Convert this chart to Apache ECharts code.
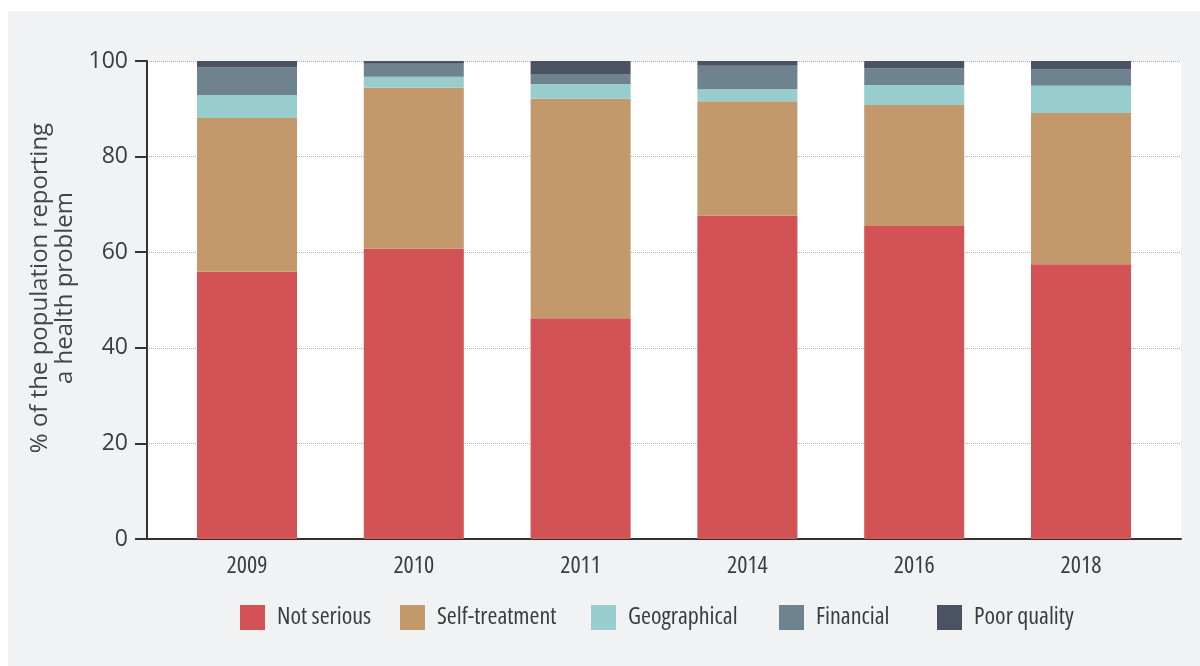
<!DOCTYPE html>
<html>
<head>
<meta charset="utf-8">
<script src="https://cdn.jsdelivr.net/npm/echarts@6/dist/echarts.min.js"></script>
<style>
  html, body { margin: 0; padding: 0; background: #ffffff; }
  #panel { position: absolute; left: 8px; top: 11px; width: 1192px; height: 655px; background: #f1f2f4; }
  #chart { position: absolute; left: 0; top: 0; width: 1200px; height: 666px; }
</style>
</head>
<body>
<div id="panel"></div>
<div id="chart"></div>
<script>
const years = ['2009', '2010', '2011', '2014', '2016', '2018'];
const notSerious    = [55.9, 60.7, 46.2, 67.6, 65.5, 57.5];
const selfTreatment = [32.2, 33.7, 45.9, 24.0, 25.3, 31.6];
const geographical  = [4.8, 2.3, 3.1, 2.5, 4.2, 5.7];
const financial     = [5.8, 2.7, 2.1, 4.9, 3.5, 3.5];
const poorQuality   = [1.3, 0.6, 2.7, 1.0, 1.5, 1.7];
const yTicks = [0, 20, 40, 60, 80, 100];

const seriesDefs = [
  { name: 'Not serious', data: notSerious, color: '#d35256' },
  { name: 'Self-treatment', data: selfTreatment, color: '#c3996b' },
  { name: 'Geographical', data: geographical, color: '#97cdcc' },
  { name: 'Financial', data: financial, color: '#6f828f' },
  { name: 'Poor quality', data: poorQuality, color: '#4b5263' }
];
const legendLefts = [240, 400, 591, 779, 937];

const family = "'Open Sans', 'Noto Sans', sans-serif";
const condensed = 'normal condensed';

const chart = echarts.init(document.getElementById('chart'), null, { renderer: 'canvas' });
chart.setOption({
  animation: false,
  grid: [
    { left: 163.6, right: 35.6, top: 61, bottom: 127 },
    { left: 147, right: 19, top: 61, bottom: 127, show: true, backgroundColor: '#ffffff', borderWidth: 0 }
  ],
  xAxis: [
    {
      type: 'category', gridIndex: 0, data: years,
      axisLine: { show: false }, axisTick: { show: false },
      axisLabel: { margin: 15, fontSize: 24, color: '#3d3d3d', fontFamily: family, fontWeight: condensed }
    },
    {
      type: 'value', gridIndex: 1, min: 0, max: 1,
      axisLine: { show: true, lineStyle: { color: '#333333', width: 2 } },
      axisTick: { show: false }, axisLabel: { show: false }, splitLine: { show: false }
    }
  ],
  yAxis: [
    { type: 'value', gridIndex: 0, min: 0, max: 100, interval: 20, show: false, splitLine: { show: false } },
    {
      type: 'value', gridIndex: 1, min: 0, max: 100, interval: 20,
      name: '% of the population reporting\na health problem',
      nameLocation: 'middle', nameGap: 63,
      nameTextStyle: { fontSize: 24, lineHeight: 25, color: '#444444', fontFamily: family, align: 'center', padding: [0, 0, 0, 24] },
      axisLine: { show: true, lineStyle: { color: '#333333', width: 2 } },
      axisTick: { show: true, length: 12, lineStyle: { color: '#333333', width: 2 } },
      axisLabel: {
        margin: 19, fontSize: 23, color: '#3d3d3d', fontFamily: family,
        formatter: v => yTicks.includes(v) ? String(v) : ''
      },
      splitLine: { show: true, lineStyle: { color: '#b0b0b0', type: 'dotted', width: 1 } }
    }
  ],
  legend: seriesDefs.map((s, i) => ({
    left: legendLefts[i], top: 605, padding: 0,
    itemWidth: 25, itemHeight: 25,
    icon: 'rect',
    textStyle: { fontSize: 24, color: '#3d3d3d', fontFamily: family, fontWeight: condensed, padding: [0, 0, 0, 7] },
    data: [s.name]
  })),
  series: seriesDefs.map(s => ({
    name: s.name, type: 'bar', stack: 'total',
    xAxisIndex: 0, yAxisIndex: 0,
    barWidth: 100, data: s.data,
    itemStyle: { color: s.color }
  }))
});
</script>
</body>
</html>
